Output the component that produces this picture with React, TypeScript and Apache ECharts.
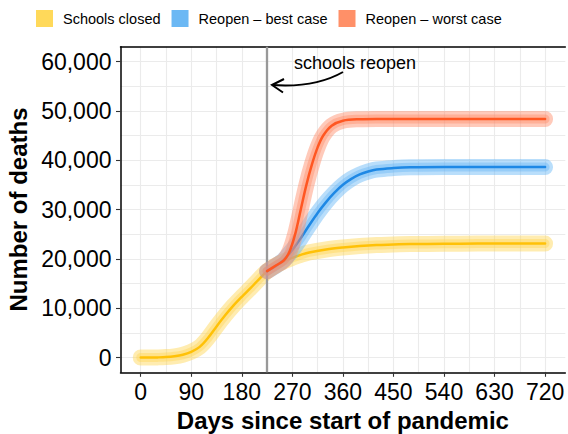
import React, { useEffect, useRef } from "react";
import * as echarts from "echarts";

const closedDays = [0, 15, 30, 45, 60, 75, 90, 105, 120, 135, 150, 165, 180, 195, 210, 225, 240, 255, 270, 285, 300, 330, 360, 390, 420, 450, 480, 540, 600, 660, 720];
const closedDeaths = [0, 0, 20, 80, 240, 550, 1150, 2150, 4000, 6300, 8500, 10500, 12300, 14000, 15800, 17500, 18600, 19500, 20200, 20800, 21300, 21900, 22300, 22600, 22800, 22900, 23000, 23050, 23100, 23100, 23100];

const bestDays = [225, 240, 255, 270, 285, 300, 315, 330, 345, 360, 375, 390, 405, 420, 450, 480, 540, 600, 660, 720];
const bestDeaths = [17500, 18500, 19800, 21800, 24200, 26800, 29300, 31500, 33400, 35000, 36200, 37100, 37700, 38100, 38400, 38550, 38600, 38600, 38600, 38600];

const worstDays = [225, 240, 255, 265, 275, 285, 295, 305, 315, 325, 340, 360, 390, 420, 480, 540, 600, 660, 720];
const worstDeaths = [17500, 18600, 19700, 21500, 25000, 30000, 35000, 39200, 42600, 45000, 47000, 48000, 48300, 48350, 48350, 48350, 48350, 48350, 48350];

const xTicks = [0, 90, 180, 270, 360, 450, 540, 630, 720];
const xMinorTicks = [45, 135, 225, 315, 405, 495, 585, 675];
const yTicks = [0, 10000, 20000, 30000, 40000, 50000, 60000];
const yMinorTicks = [5000, 15000, 25000, 35000, 45000, 55000];

const reopenDay = 225;
const seriesNames = ["Schools closed", "Reopen \u2013 best case", "Reopen \u2013 worst case"];
const lineColors = ["#FFC107", "#1E88E5", "#FF5722"];
const bandColors = ["#FFD54F", "#64B5F6", "#FF8A65"];
const legendColors = ["#FFD95A", "#6BB8F4", "#FF9068"];

const FONT = "'Liberation Sans', Arial, Helvetica, sans-serif";

function zip(xs: number[], ys: number[]) {
  return xs.map((x, i) => [x, ys[i]]);
}

export default function App() {
  const ref = useRef<HTMLDivElement>(null);
  useEffect(() => {
    if (!ref.current) return;
    const chart = echarts.init(ref.current, null, { renderer: "svg" });
    const datasets = [zip(closedDays, closedDeaths), zip(bestDays, bestDeaths), zip(worstDays, worstDeaths)];
    const common = { type: "line", showSymbol: false, symbol: "none", silent: true, smooth: 0.35 };
    const series: any[] = [];
    datasets.forEach((d, i) => {
      series.push({
        ...common, name: seriesNames[i], data: d,
        lineStyle: { color: bandColors[i], width: 16, opacity: 0.45, cap: "round", join: "round" },
        itemStyle: { color: bandColors[i] }, z: 2 + i * 3,
      });
      series.push({
        ...common, name: seriesNames[i], data: d,
        lineStyle: { color: bandColors[i], width: 9, opacity: 0.4, cap: "round", join: "round" },
        itemStyle: { color: bandColors[i] }, z: 3 + i * 3,
      });
      series.push({
        ...common, name: seriesNames[i], data: d,
        lineStyle: { color: lineColors[i], width: 2.5, cap: "round", join: "round" },
        itemStyle: { color: lineColors[i] }, z: 4 + i * 3,
        markLine: i === 0 ? {
          silent: true, symbol: "none", label: { show: false },
          lineStyle: { color: "#999999", width: 2.3, type: "solid", opacity: 1 },
          data: [{ xAxis: reopenDay }],
        } : undefined,
      });
    });

    const axisLabelStyle = { color: "#000", fontFamily: FONT, fontSize: 23 };
    chart.setOption({
      animation: false,
      backgroundColor: "#fff",
      grid: { left: 120.5, right: 2.7, top: 46.7, bottom: 61.7, outerBoundsMode: "none", containLabel: false },
      legend: {
        left: 36, top: 10, padding: 0, itemWidth: 17, itemHeight: 17, itemGap: 11, selectedMode: false,
        icon: "rect",
        textStyle: { fontFamily: FONT, fontSize: 14.5, color: "#000", padding: [0, 0, 0, 5] },
        data: seriesNames.map((n, i) => ({ name: n, itemStyle: { color: legendColors[i], opacity: 1 }, lineStyle: { opacity: 0 } })),
      },
      xAxis: [
        {
          type: "value", min: -36, max: 756, position: "bottom",
          name: "Days since start of pandemic", nameLocation: "middle", nameGap: 35,
          nameTextStyle: { fontFamily: FONT, fontSize: 24, fontWeight: "bold", color: "#000" },
          axisLine: { show: true, onZero: false, lineStyle: { color: "#000", width: 1.5 } },
          axisTick: { show: true, length: 4.5, customValues: xTicks, lineStyle: { color: "#333", width: 1.1 } },
          axisLabel: { ...axisLabelStyle, margin: 8, customValues: xTicks },
          splitLine: { show: true, lineStyle: { color: "#EBEBEB", width: 1.1 } },
        },
        {
          type: "value", min: -36, max: 756, position: "top",
          axisLine: { show: true, onZero: false, lineStyle: { color: "#000", width: 1.5 } },
          axisTick: { show: false, customValues: xMinorTicks },
          axisLabel: { show: false, customValues: xMinorTicks },
          splitLine: { show: true, lineStyle: { color: "#EBEBEB", width: 1.1 } },
        },
      ],
      yAxis: [
        {
          type: "value", min: -3000, max: 63000, position: "left",
          name: "Number of deaths", nameLocation: "middle", nameGap: 89,
          nameTextStyle: { fontFamily: FONT, fontSize: 24, fontWeight: "bold", color: "#000" },
          axisLine: { show: true, onZero: false, lineStyle: { color: "#000", width: 1.5 } },
          axisTick: { show: true, length: 4.5, customValues: yTicks, lineStyle: { color: "#333", width: 1.1 } },
          axisLabel: {
            ...axisLabelStyle, margin: 9, customValues: yTicks,
            formatter: (v: number) => v.toLocaleString("en-US"),
          },
          splitLine: { show: true, lineStyle: { color: "#EBEBEB", width: 1.1 } },
        },
        {
          type: "value", min: -3000, max: 63000, position: "right",
          axisLine: { show: false },
          axisTick: { show: false, customValues: yMinorTicks },
          axisLabel: { show: false, customValues: yMinorTicks },
          splitLine: { show: true, lineStyle: { color: "#EBEBEB", width: 1.1 } },
        },
      ],
      series,
      graphic: [
        {
          type: "text", x: 355, y: 63, z: 100,
          style: { text: "schools reopen", fontFamily: FONT, fontSize: 18, fill: "#000", align: "center", verticalAlign: "middle" },
        },
        {
          type: "bezierCurve", z: 100,
          shape: { x1: 343, y1: 72, cpx1: 315, cpy1: 88, x2: 272, y2: 85 },
          style: { stroke: "#000", lineWidth: 2, fill: "none" },
        },
        {
          type: "polyline", z: 100,
          shape: { points: [[284, 79], [272, 85], [283, 92.5]] },
          style: { stroke: "#000", lineWidth: 2, fill: "none" },
        },
      ],
    });
    return () => chart.dispose();
  }, []);
  return <div ref={ref} style={{ position: "fixed", left: 0, top: 0, width: 568, height: 434 }} />;
}
